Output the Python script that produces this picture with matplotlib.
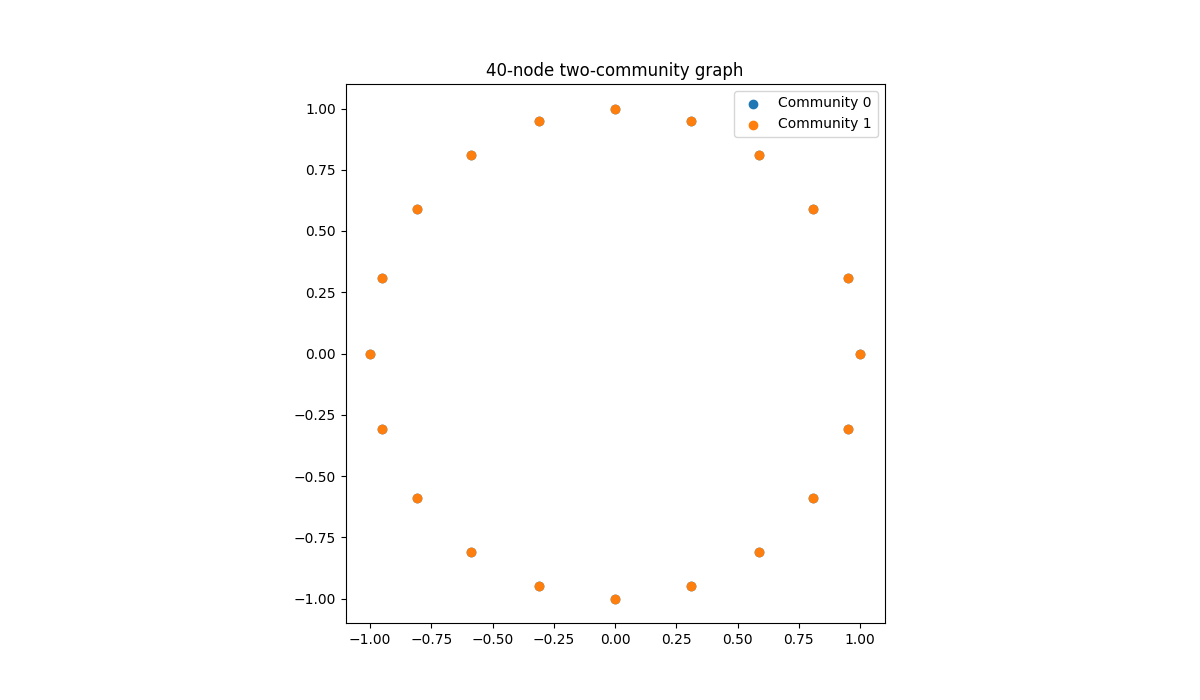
import matplotlib
matplotlib.use("Agg")
import matplotlib.pyplot as plt

comm0_x = [1.000, 0.951, 0.809, 0.588, 0.309, 0.000, -0.309, -0.588, -0.809, -0.951,
           -1.000, -0.951, -0.809, -0.588, -0.309, 0.000, 0.309, 0.588, 0.809, 0.951]
comm0_y = [0.000, 0.309, 0.588, 0.809, 0.951, 1.000, 0.951, 0.809, 0.588, 0.309,
           0.000, -0.309, -0.588, -0.809, -0.951, -1.000, -0.951, -0.809, -0.588, -0.309]
comm1_x = list(comm0_x)
comm1_y = list(comm0_y)

fig, ax = plt.subplots(figsize=(12, 7), dpi=100)
ax.scatter(comm0_x, comm0_y, label="Community 0")
ax.scatter(comm1_x, comm1_y, label="Community 1")
ax.set_aspect("equal")
ax.set_title("40-node two-community graph")
ax.legend(loc="upper right")
fig.savefig("out.png")
